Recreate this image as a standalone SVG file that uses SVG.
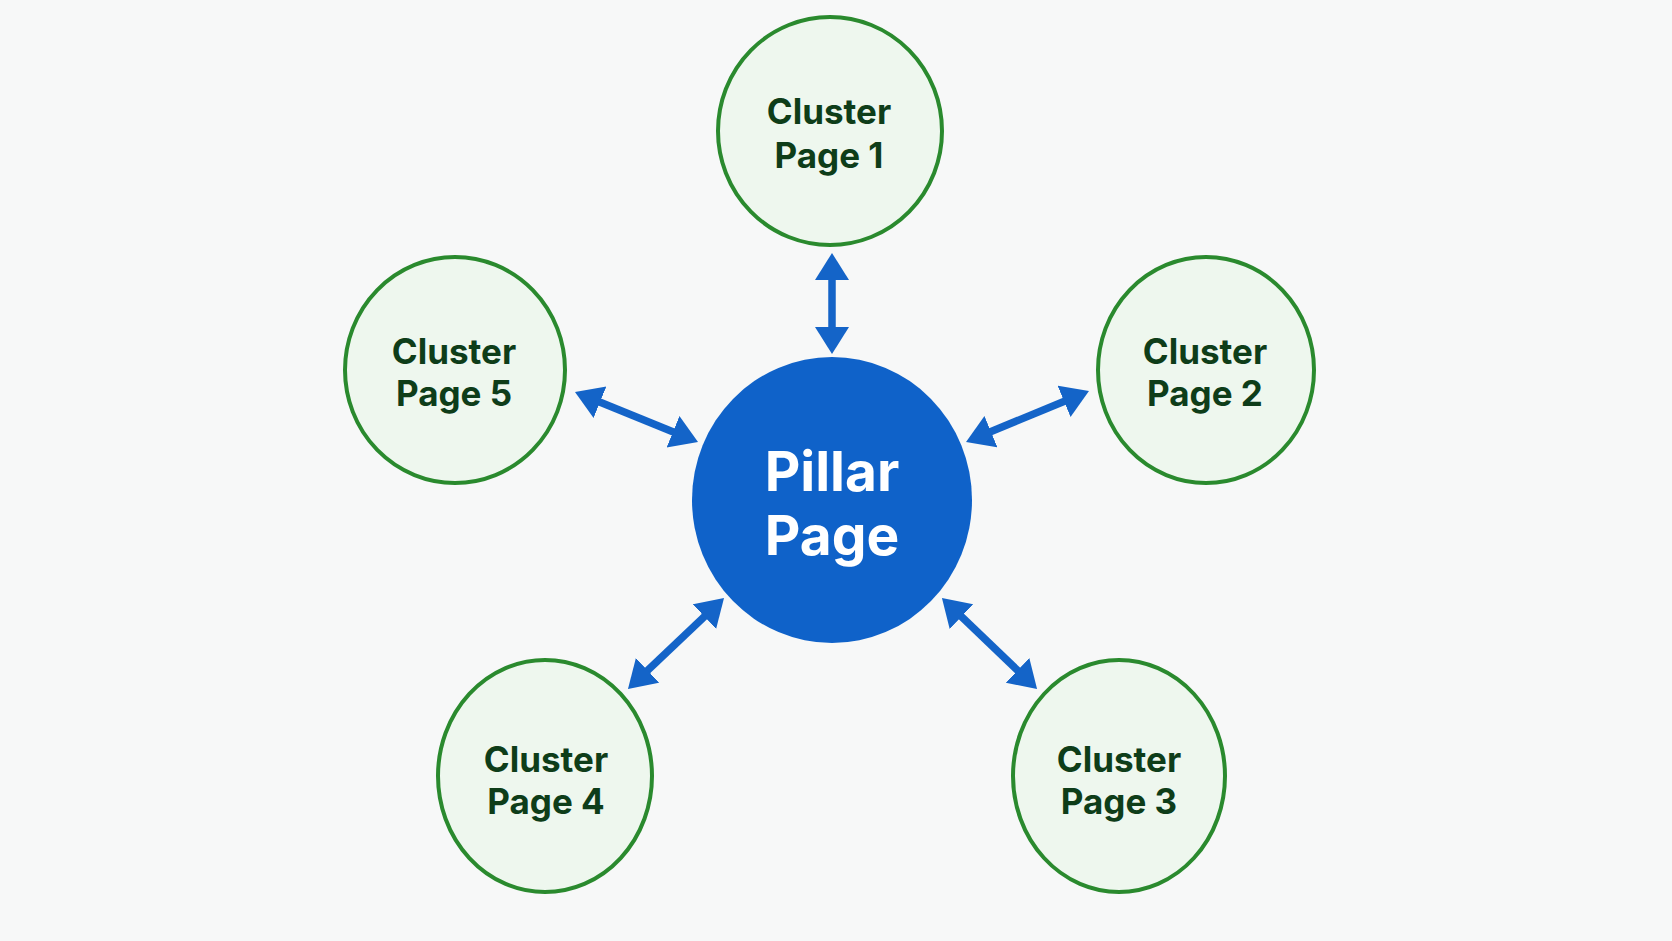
<svg xmlns="http://www.w3.org/2000/svg" width="1672" height="941" viewBox="0 0 1672 941">
<style>
.bg{fill:#f7f8f8}
.cluster{fill:#eef7ee;stroke:#2a8a2e;stroke-width:4}
.ctext{font-family:Inter,"Liberation Sans",sans-serif;font-weight:700;font-size:35px;fill:#0e3d19;text-anchor:middle}
.pillar{fill:#0f62c9}
.ptext{font-family:Inter,"Liberation Sans",sans-serif;font-weight:700;font-size:55px;fill:#ffffff;text-anchor:middle}
.conn{stroke:#1464c8;stroke-width:7.5;fill:none;marker-start:url(#ah);marker-end:url(#ah)}
</style>
<defs>
<marker id="ah" markerUnits="userSpaceOnUse" markerWidth="30" markerHeight="36" refX="7" refY="17" orient="auto-start-reverse">
<path d="M0,0 L27,17 L0,34 Z" fill="#1464c8"/>
</marker>
</defs>
<rect class="bg" x="0" y="0" width="1672" height="941"/>
<g id="connectors">
<line class="conn" x1="832" y1="273" x2="832" y2="334"/>
<line class="conn" x1="984.5" y1="434.3" x2="1070.5" y2="398.7"/>
<line class="conn" x1="956.4" y1="611.8" x2="1022.6" y2="675.2"/>
<line class="conn" x1="709.5" y1="611.8" x2="642.5" y2="675.2"/>
<line class="conn" x1="679.5" y1="434.5" x2="593.5" y2="399.5"/>
</g>
<g id="pillar">
<ellipse class="pillar" cx="832" cy="500" rx="140" ry="143"/>
<text class="ptext" x="832" y="491">Pillar</text>
<text class="ptext" x="832" y="555">Page</text>
</g>
<g id="cluster1">
<ellipse class="cluster" cx="830" cy="131" rx="112" ry="114"/>
<text class="ctext" x="829" y="124">Cluster</text>
<text class="ctext" x="829" y="168">Page 1</text>
</g>
<g id="cluster2">
<ellipse class="cluster" cx="1206" cy="370" rx="108" ry="113"/>
<text class="ctext" x="1205" y="364">Cluster</text>
<text class="ctext" x="1205" y="406">Page 2</text>
</g>
<g id="cluster3">
<ellipse class="cluster" cx="1119" cy="776" rx="106" ry="116"/>
<text class="ctext" x="1119" y="772">Cluster</text>
<text class="ctext" x="1119" y="814">Page 3</text>
</g>
<g id="cluster4">
<ellipse class="cluster" cx="545" cy="776" rx="107" ry="116"/>
<text class="ctext" x="546" y="772">Cluster</text>
<text class="ctext" x="546" y="814">Page 4</text>
</g>
<g id="cluster5">
<ellipse class="cluster" cx="455" cy="370" rx="110" ry="113"/>
<text class="ctext" x="454" y="364">Cluster</text>
<text class="ctext" x="454" y="406">Page 5</text>
</g>
</svg>
